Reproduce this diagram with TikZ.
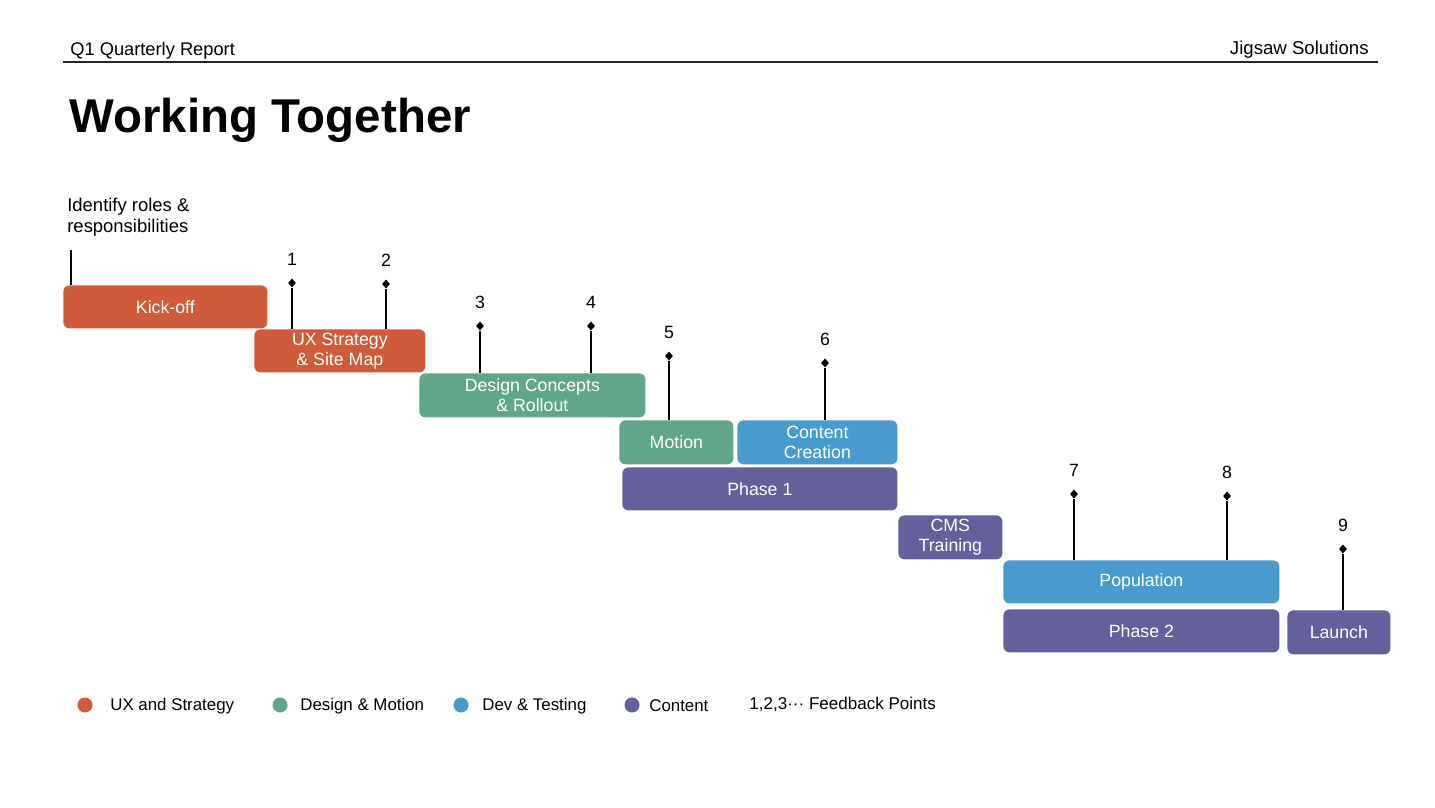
\documentclass[tikz,border=0pt]{standalone}
\usepackage{fontspec}
\setmainfont{Liberation Sans}
\usetikzlibrary{positioning,shapes.geometric}
\definecolor{uxorange}{HTML}{CF5B3A}
\definecolor{designgreen}{HTML}{62A689}
\definecolor{devblue}{HTML}{4A9BCD}
\definecolor{contentpurple}{HTML}{63609C}
\def\px{0.02cm}
\tikzset{
  task/.style n args={3}{fill=#1,rounded corners=3.5pt,text=white,align=center,
    anchor=north west,inner sep=0pt,minimum width=#2*\px,minimum height=#3*\px,
    font=\fontsize{10.1}{11.3}\selectfont},
  fbpin/.style={diamond,fill=black,inner sep=0pt,minimum width=4.6pt,minimum height=5.2pt},
  fbnum/.style={font=\fontsize{10.1}{11}\selectfont,inner sep=1pt},
  pinline/.style={black,line width=0.7pt},
}

\begin{document}
\begin{tikzpicture}[x=\px,y=-\px]
  \useasboundingbox (0,0) rectangle (1435,807);

  % HEADER
  \node[anchor=base west,inner sep=0pt,font=\fontsize{10.4}{12}\selectfont] (report) at (70,56) {Q1 Quarterly Report};
  \node[anchor=base east,inner sep=0pt,font=\fontsize{10.6}{12}\selectfont] (company) at (1369,55) {Jigsaw Solutions};
  \coordinate (ruleL) at (63,62);
  \coordinate (ruleR) at (1378,62);
  \draw[black!85,line width=0.6pt] (ruleL) -- (ruleR);
  \node[anchor=base west,inner sep=0pt,font=\fontsize{27}{30}\bfseries] (title) at (69,133) {Working Together};

  % TASKS
  \node[task={uxorange}{204}{43}] (kick) at (63,285) {Kick-off};
  \node[task={uxorange}{171}{43}] (ux) at (254,329) {UX Strategy\\\& Site Map};
  \node[task={designgreen}{226}{44}] (design) at (419,373) {Design Concepts\\\& Rollout};
  \node[task={designgreen}{114}{44}] (motion) at (619,420) {Motion};
  \node[task={devblue}{160}{44}] (content) at (737,420) {Content\\Creation};
  \node[task={contentpurple}{275}{43}] (phase1) at (622,467) {Phase 1};
  \node[task={contentpurple}{104}{44}] (cms) at (898,515) {CMS\\Training};
  \node[task={devblue}{276}{43}] (population) at (1003,560) {Population};
  \node[task={contentpurple}{276}{43}] (phase2) at (1003,609) {Phase 2};
  \node[task={contentpurple}{103}{44}] (launch) at (1287,610) {Launch};

  % KICK-OFF NOTE
  \node[anchor=north west,align=left,inner sep=0pt,font=\fontsize{10.5}{12}\selectfont] (roles) at (67,198) {Identify roles \&\\responsibilities};
  \coordinate (kickpin) at (71,250);
  \draw[pinline] (kickpin) -- (kickpin |- kick.north);

  % FEEDBACK POINTS
  \foreach \n/\x/\y/\task in {1/292/283/ux,2/386/284/ux,3/480/326/design,4/591/326/design,
                              5/669/356/motion,6/825/363/content,7/1074/494/population,
                              8/1227/496/population,9/1343/549/launch}{
    \node[fbpin] (fb\n) at (\x,\y) {};
    \node[fbnum,above=0.2cm of fb\n] (fbnum\n) {\n};
    \draw[pinline] (fb\n) -- (fb\n |- \task.north);
  }

  % LEGEND
  \foreach \name/\col/\cx/\tx/\txt in {uxleg/uxorange/85/110/UX and Strategy,
                                       designleg/designgreen/280/300/Design \& Motion,
                                       devleg/devblue/461/482/Dev \& Testing,
                                       contentleg/contentpurple/632/649/Content}{
    \node[circle,fill=\col,inner sep=0pt,minimum size=15*\px] (\name dot) at (\cx,705) {};
    \node[anchor=west,inner sep=0pt,font=\fontsize{9.6}{11}\selectfont] (\name) at (\tx,706) {\txt};
  }
  \node[anchor=west,inner sep=0pt,font=\fontsize{9.7}{11}\selectfont] (fbleg) at (749,704) {1,2,3···\ Feedback Points};
\end{tikzpicture}
\end{document}
